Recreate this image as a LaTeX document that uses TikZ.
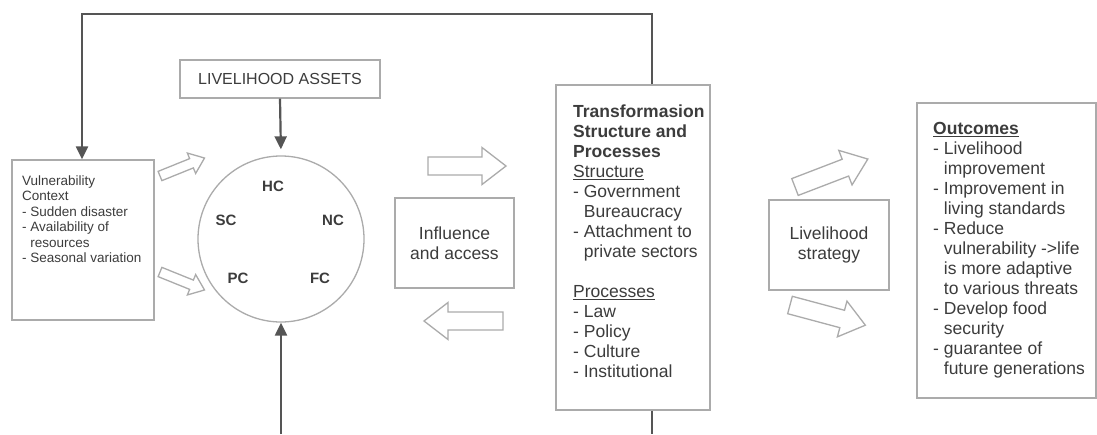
\documentclass[tikz,border=0pt]{standalone}
\usepackage{fontspec}
\setmainfont{Liberation Sans}
\usetikzlibrary{arrows.meta}
\definecolor{txt}{HTML}{3C3C3C}
\definecolor{frame}{HTML}{ABABAB}
\definecolor{dark}{HTML}{555555}
\newcommand{\hollowarrow}[7]{%
  \begin{scope}[shift={(#1,#2)},rotate=#3]
    \draw[hollow] (0,-#5) -- (#4-#7,-#5) -- (#4-#7,-#6) -- (#4,0) -- (#4-#7,#6) -- (#4-#7,#5) -- (0,#5) -- cycle;
  \end{scope}}
\begin{document}
\begin{tikzpicture}[x=1pt,y=-1pt,
  every node/.style={text=txt},
  box/.style={draw=frame,line width=1.3pt,inner sep=0pt,fill=white},
  bodytext/.style={font=\fontsize{17.5}{20}\selectfont,inner sep=0pt,align=left},
  smalltext/.style={font=\fontsize{13.5}{15.5}\selectfont,inner sep=0pt,align=left},
  captext/.style={font=\fontsize{15}{17}\selectfont\bfseries,inner sep=0pt},
  link/.style={draw=dark,line width=2.2pt,-{Triangle[length=13pt,width=12pt]}},
  plainlink/.style={draw=dark,line width=2.2pt},
  hollow/.style={draw=frame,line width=1.3pt,fill=white,line join=miter}]
\useasboundingbox (0,0) rectangle (1097,434);
\fill[white] (0,0) rectangle (1097,434);

% boxes
\node[box,minimum width=200pt,minimum height=38pt,font=\fontsize{16}{18}\selectfont] (assets) at (280,79) {LIVELIHOOD ASSETS};
\node[box,minimum width=142pt,minimum height=160pt] (vuln) at (83,240) {};
\node[circle,draw=frame,line width=1.3pt,minimum size=166pt,inner sep=0pt] (capc) at (281,239) {};
\node[box,minimum width=119pt,minimum height=90pt,bodytext,align=center] (infl) at (454.5,243) {Influence\\and access};
\node[box,minimum width=154pt,minimum height=325pt] (transf) at (633,247.5) {};
\node[box,minimum width=120pt,minimum height=90pt,bodytext,align=center] (strat) at (829,245) {Livelihood\\strategy};
\node[box,minimum width=179pt,minimum height=295pt] (outc) at (1006.5,250.5) {};

% texts
\node[smalltext,anchor=north west] (vulntext) at (22,175.5) {Vulnerability\\Context\\- Sudden disaster\\- Availability of\\\phantom{- }resources\\- Seasonal variation};
\node[bodytext,anchor=north west] (transftext) at (573,105) {\textbf{Transformasion}\\\textbf{Structure and}\\\textbf{Processes}\\\underline{Structure}\\- Government\\\phantom{- }Bureaucracy\\- Attachment to\\\phantom{- }private sectors\\[20pt]\underline{Processes}\\- Law\\- Policy\\- Culture\\- Institutional};
\node[bodytext,anchor=north west] (outctext) at (933,122) {\underline{\textbf{Outcomes}}\\- Livelihood\\\phantom{- }improvement\\- Improvement in\\\phantom{- }living standards\\- Reduce\\\phantom{- }vulnerability ->life\\\phantom{- }is more adaptive\\\phantom{- }to various threats\\- Develop food\\\phantom{- }security\\- guarantee of\\\phantom{- }future generations};

% capitals
\node[captext] (hc) at (273,186) {HC};
\node[captext] (sc) at (226,220) {SC};
\node[captext] (nc) at (333,220) {NC};
\node[captext] (pc) at (238,278) {PC};
\node[captext] (fc) at (320,278) {FC};

% connectors
\coordinate (tstart) at ([xshift=19pt]transf.north);
\coordinate (tr) at (tstart |- 0,14);
\coordinate (tl) at (82,14);
\draw[link] (tstart) -- (tr) -- (tl) -- (tl |- vuln.north);
\draw[link,shorten >=6pt] (assets.south) -- (capc.north);
\coordinate (bot) at (capc.south |- 0,434);
\draw[link] (bot) -- (capc.south);
\coordinate (tend) at ([xshift=19pt]transf.south);
\coordinate (tbot) at (tend |- 0,434);
\draw[plainlink] (tend) -- (tbot);

% hollow arrows
\hollowarrow{160}{176}{22}{48}{5}{11}{14}
\hollowarrow{160}{272}{-22}{48}{5}{11}{14}
\hollowarrow{428}{166}{0}{78}{9}{18.5}{24}
\hollowarrow{503}{321}{180}{79}{9}{18.5}{24}
\hollowarrow{795}{187}{21}{78}{9}{18.5}{24}
\hollowarrow{790}{305}{-15}{78}{9}{18.5}{24}
\end{tikzpicture}
\end{document}
